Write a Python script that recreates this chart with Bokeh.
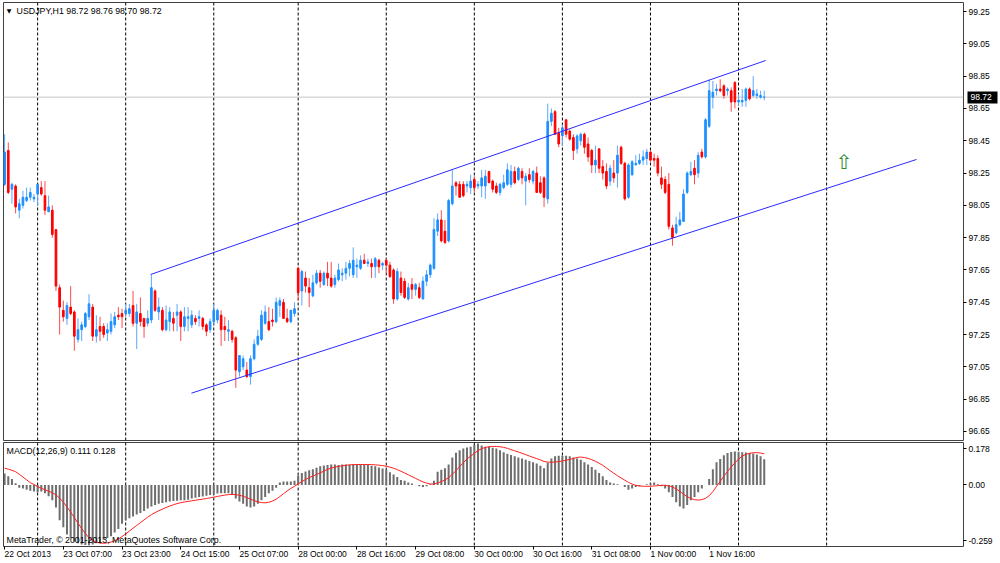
import pandas as pd
from bokeh.plotting import figure
from bokeh.models import (Range1d, FixedTicker, Span, Label, ColumnDataSource,
                          PrintfTickFormatter, LinearAxis)
from bokeh.layouts import column
from bokeh.embed import file_html
from bokeh.resources import INLINE

FONT = "Liberation Sans"
FS = "8.5px"      # scale labels
FS_IN = "8.8px"   # texts inside the panes

# ---------------- data ----------------
symbol_text = "USDJPY,H1  98.72 98.76 98.70 98.72"
macd_text = "MACD(12,26,9) 0.111 0.128"
copyright_text = "MetaTrader, \u00a9 2001-2013, MetaQuotes Software Corp."

opens = [
    98.18, 98.39, 98.15, 98.17, 98.02, 98.05, 98.08, 98.10, 98.09, 98.12,
    98.16, 98.11, 98.01, 98.02, 97.90, 97.54, 97.40, 97.35, 97.42, 97.39,
    97.22, 97.28, 97.30, 97.36, 97.42, 97.24, 97.30, 97.30, 97.26, 97.27,
    97.31, 97.37, 97.38, 97.38, 97.38, 97.43, 97.32, 97.38, 97.35, 97.32,
    97.34, 97.52, 97.39, 97.40, 97.28, 97.33, 97.35, 97.37, 97.39, 97.30,
    97.35, 97.31, 97.35, 97.35, 97.35, 97.31, 97.28, 97.33, 97.34, 97.37,
    97.30, 97.27, 97.27, 97.23, 97.02, 97.05, 97.03, 96.99, 97.10, 97.19,
    97.22, 97.32, 97.33, 97.34, 97.33, 97.43, 97.45, 97.35, 97.33, 97.38,
    97.66, 97.52, 97.60, 97.54, 97.49, 97.57, 97.63, 97.56, 97.63, 97.60,
    97.56, 97.59, 97.62, 97.63, 97.66, 97.62, 97.67, 97.66, 97.71, 97.69,
    97.69, 97.67, 97.71, 97.68, 97.71, 97.68, 97.65, 97.47, 97.60, 97.58,
    97.47, 97.56, 97.53, 97.54, 97.47, 97.58, 97.62, 97.66, 97.89, 97.96,
    97.89, 97.83, 98.06, 98.19, 98.18, 98.18, 98.17, 98.16, 98.21, 98.17,
    98.17, 98.17, 98.26, 98.20, 98.17, 98.13, 98.16, 98.18, 98.18, 98.26,
    98.21, 98.26, 98.20, 98.24, 98.20, 98.25, 98.19, 98.22, 98.09, 98.57,
    98.63, 98.50, 98.48, 98.58, 98.51, 98.47, 98.40, 98.45, 98.49, 98.43,
    98.39, 98.30, 98.40, 98.29, 98.26, 98.20, 98.25, 98.25, 98.41, 98.31,
    98.10, 98.24, 98.30, 98.31, 98.33, 98.34, 98.38, 98.34, 98.34, 98.22,
    98.21, 98.18, 97.91, 97.88, 97.93, 97.95, 98.13, 98.24, 98.28, 98.25,
    98.38, 98.35, 98.54, 98.72, 98.76, 98.77, 98.79, 98.76, 98.76, 98.81,
    98.69, 98.69, 98.70, 98.77, 98.73, 98.73, 98.72, 98.72,
]
highs = [
    98.49, 98.44, 98.19, 98.18, 98.09, 98.14, 98.16, 98.16, 98.12, 98.18,
    98.20, 98.20, 98.11, 98.05, 97.90, 97.56, 97.46, 97.45, 97.55, 97.40,
    97.35, 97.33, 97.39, 97.50, 97.44, 97.37, 97.36, 97.32, 97.32, 97.38,
    97.39, 97.42, 97.41, 97.44, 97.44, 97.52, 97.44, 97.48, 97.35, 97.40,
    97.62, 97.53, 97.48, 97.42, 97.43, 97.42, 97.39, 97.44, 97.40, 97.42,
    97.42, 97.40, 97.37, 97.40, 97.36, 97.32, 97.35, 97.44, 97.41, 97.40,
    97.36, 97.34, 97.28, 97.24, 97.12, 97.12, 97.08, 97.12, 97.22, 97.28,
    97.40, 97.43, 97.42, 97.41, 97.48, 97.48, 97.47, 97.41, 97.40, 97.45,
    97.67, 97.65, 97.64, 97.60, 97.62, 97.65, 97.65, 97.64, 97.70, 97.70,
    97.62, 97.69, 97.66, 97.70, 97.71, 97.79, 97.72, 97.74, 97.75, 97.72,
    97.72, 97.73, 97.72, 97.70, 97.72, 97.70, 97.66, 97.66, 97.64, 97.60,
    97.57, 97.60, 97.57, 97.57, 97.61, 97.65, 97.69, 97.97, 98.00, 98.02,
    97.96, 98.09, 98.27, 98.20, 98.20, 98.20, 98.20, 98.24, 98.23, 98.20,
    98.27, 98.27, 98.26, 98.21, 98.19, 98.19, 98.24, 98.31, 98.30, 98.29,
    98.29, 98.28, 98.25, 98.28, 98.27, 98.29, 98.23, 98.23, 98.68, 98.65,
    98.64, 98.53, 98.55, 98.58, 98.52, 98.49, 98.49, 98.50, 98.50, 98.47,
    98.40, 98.42, 98.40, 98.33, 98.31, 98.30, 98.33, 98.42, 98.42, 98.32,
    98.31, 98.33, 98.36, 98.37, 98.39, 98.40, 98.39, 98.37, 98.36, 98.29,
    98.23, 98.25, 97.93, 97.98, 98.01, 98.15, 98.26, 98.32, 98.33, 98.38,
    98.40, 98.59, 98.83, 98.82, 98.80, 98.83, 98.80, 98.78, 98.78, 98.82,
    98.74, 98.77, 98.78, 98.78, 98.85, 98.77, 98.76, 98.76,
]
lows = [
    98.17, 98.12, 98.06, 98.00, 97.97, 98.03, 98.07, 98.08, 98.07, 98.05,
    98.11, 97.99, 98.01, 97.85, 97.52, 97.25, 97.33, 97.31, 97.37, 97.15,
    97.20, 97.21, 97.29, 97.34, 97.21, 97.20, 97.21, 97.23, 97.21, 97.25,
    97.29, 97.34, 97.29, 97.36, 97.36, 97.30, 97.16, 97.30, 97.23, 97.30,
    97.32, 97.39, 97.34, 97.27, 97.27, 97.27, 97.27, 97.27, 97.21, 97.27,
    97.27, 97.29, 97.31, 97.30, 97.28, 97.24, 97.26, 97.31, 97.32, 97.18,
    97.21, 97.21, 97.20, 96.92, 96.99, 97.03, 96.98, 96.94, 97.09, 97.18,
    97.21, 97.31, 97.27, 97.30, 97.32, 97.36, 97.35, 97.32, 97.32, 97.36,
    97.46, 97.43, 97.51, 97.42, 97.48, 97.56, 97.54, 97.55, 97.55, 97.54,
    97.54, 97.58, 97.58, 97.59, 97.61, 97.60, 97.60, 97.65, 97.69, 97.67,
    97.60, 97.60, 97.63, 97.65, 97.63, 97.60, 97.44, 97.46, 97.49, 97.47,
    97.46, 97.47, 97.49, 97.47, 97.47, 97.55, 97.60, 97.65, 97.86, 97.82,
    97.81, 97.82, 98.05, 98.11, 98.10, 98.10, 98.13, 98.12, 98.13, 98.15,
    98.10, 98.09, 98.19, 98.13, 98.12, 98.11, 98.15, 98.17, 98.16, 98.18,
    98.20, 98.18, 98.05, 98.19, 98.18, 98.13, 98.12, 98.04, 98.06, 98.54,
    98.49, 98.41, 98.42, 98.47, 98.45, 98.33, 98.37, 98.42, 98.37, 98.32,
    98.25, 98.25, 98.25, 98.21, 98.15, 98.17, 98.19, 98.16, 98.30, 98.08,
    98.09, 98.23, 98.30, 98.30, 98.30, 98.30, 98.32, 98.29, 98.23, 98.15,
    98.12, 97.90, 97.80, 97.87, 97.92, 97.95, 98.12, 98.23, 98.18, 98.22,
    98.34, 98.34, 98.53, 98.65, 98.73, 98.75, 98.71, 98.73, 98.63, 98.65,
    98.67, 98.66, 98.66, 98.70, 98.72, 98.71, 98.71, 98.70,
]
closes = [
    98.38, 98.13, 98.18, 98.04, 98.06, 98.10, 98.10, 98.13, 98.10, 98.18,
    98.12, 98.02, 98.04, 97.87, 97.55, 97.42, 97.36, 97.43, 97.38, 97.24,
    97.28, 97.31, 97.38, 97.44, 97.24, 97.28, 97.27, 97.25, 97.28, 97.33,
    97.36, 97.36, 97.36, 97.40, 97.41, 97.32, 97.39, 97.33, 97.30, 97.35,
    97.54, 97.40, 97.42, 97.28, 97.34, 97.39, 97.32, 97.39, 97.30, 97.36,
    97.36, 97.37, 97.33, 97.36, 97.30, 97.27, 97.33, 97.40, 97.40, 97.28,
    97.28, 97.28, 97.22, 97.03, 97.12, 97.10, 96.99, 97.10, 97.19, 97.24,
    97.37, 97.39, 97.28, 97.33, 97.45, 97.46, 97.35, 97.33, 97.40, 97.41,
    97.51, 97.64, 97.55, 97.51, 97.57, 97.63, 97.58, 97.63, 97.60, 97.55,
    97.60, 97.65, 97.63, 97.66, 97.69, 97.71, 97.68, 97.71, 97.69, 97.70,
    97.67, 97.72, 97.67, 97.69, 97.68, 97.61, 97.47, 97.64, 97.51, 97.48,
    97.54, 97.53, 97.56, 97.48, 97.58, 97.62, 97.68, 97.90, 97.96, 97.83,
    97.82, 98.08, 98.17, 98.17, 98.10, 98.11, 98.18, 98.20, 98.16, 98.18,
    98.22, 98.23, 98.19, 98.15, 98.13, 98.18, 98.19, 98.27, 98.26, 98.19,
    98.28, 98.22, 98.23, 98.21, 98.26, 98.13, 98.13, 98.10, 98.57, 98.62,
    98.49, 98.43, 98.53, 98.49, 98.46, 98.39, 98.48, 98.49, 98.41, 98.35,
    98.30, 98.33, 98.28, 98.25, 98.17, 98.28, 98.22, 98.36, 98.31, 98.09,
    98.30, 98.32, 98.31, 98.33, 98.35, 98.38, 98.33, 98.33, 98.25, 98.18,
    98.13, 97.92, 97.85, 97.93, 97.96, 98.12, 98.25, 98.26, 98.24, 98.36,
    98.35, 98.58, 98.76, 98.75, 98.77, 98.76, 98.73, 98.77, 98.69, 98.69,
    98.70, 98.70, 98.77, 98.71, 98.76, 98.74, 98.73, 98.72,
]

# MACD(12,26,9) main line (drawn as histogram)
macd_main = [
    0.049, 0.038, 0.026, 0.008, -0.012, -0.015, -0.020, -0.025, -0.028, -0.031,
    -0.028, -0.035, -0.048, -0.066, -0.097, -0.151, -0.181, -0.212, -0.227, -0.243,
    -0.250, -0.255, -0.258, -0.259, -0.255, -0.250, -0.246, -0.235, -0.227, -0.220,
    -0.204, -0.189, -0.166, -0.151, -0.143, -0.135, -0.127, -0.120, -0.112, -0.101,
    -0.092, -0.086, -0.081, -0.077, -0.074, -0.071, -0.069, -0.068, -0.066, -0.065,
    -0.063, -0.058, -0.055, -0.052, -0.049, -0.046, -0.043, -0.040, -0.037, -0.035,
    -0.035, -0.035, -0.043, -0.058, -0.071, -0.081, -0.092, -0.097, -0.092, -0.081,
    -0.066, -0.051, -0.035, -0.025, -0.012, 0.011, 0.015, 0.015, 0.015, 0.018,
    0.041, 0.052, 0.058, 0.063, 0.068, 0.074, 0.080, 0.084, 0.086, 0.088,
    0.088, 0.086, 0.088, 0.088, 0.088, 0.089, 0.089, 0.088, 0.088, 0.086,
    0.083, 0.080, 0.075, 0.071, 0.065, 0.055, 0.045, 0.034, 0.021, 0.018,
    0.011, 0.006, 0.000, -0.005, -0.009, -0.005, 0.003, 0.018, 0.057, 0.065,
    0.072, 0.088, 0.118, 0.138, 0.149, 0.157, 0.161, 0.164, 0.172, 0.178,
    0.169, 0.164, 0.164, 0.160, 0.157, 0.149, 0.141, 0.134, 0.129, 0.123,
    0.118, 0.114, 0.108, 0.103, 0.098, 0.092, 0.083, 0.072, 0.095, 0.114,
    0.123, 0.126, 0.126, 0.126, 0.123, 0.118, 0.114, 0.108, 0.098, 0.088,
    0.077, 0.065, 0.052, 0.037, 0.021, 0.011, 0.006, 0.003, 0.000, -0.009,
    -0.020, -0.015, -0.009, -0.005, 0.000, 0.003, 0.006, 0.011, 0.003, -0.005,
    -0.015, -0.031, -0.051, -0.074, -0.092, -0.101, -0.086, -0.066, -0.051, -0.031,
    -0.015, 0.000, 0.026, 0.068, 0.098, 0.112, 0.128, 0.137, 0.142, 0.144,
    0.143, 0.141, 0.139, 0.137, 0.135, 0.131, 0.123, 0.111,
]
# signal line for the first 8 bars (its earlier history is off-screen)
signal_head = [0.072, 0.068, 0.063, 0.057, 0.046, 0.034, 0.022, 0.010]

time_tick_bars = [0, 16, 32, 48, 64, 80, 96, 112, 128, 144, 160, 176, 192]
time_tick_labels = ["22 Oct 2013", "23 Oct 07:00", "23 Oct 23:00", "24 Oct 15:00",
                    "25 Oct 07:00", "28 Oct 00:00", "28 Oct 16:00", "29 Oct 08:00",
                    "30 Oct 00:00", "30 Oct 16:00", "31 Oct 08:00", "1 Nov 00:00",
                    "1 Nov 16:00"]
day_start_bars = [9, 33, 57, 80, 104, 128, 152, 176, 200, 224]
price_ticks = [96.65, 96.85, 97.05, 97.25, 97.45, 97.65, 97.85, 98.05,
               98.25, 98.45, 98.65, 98.85, 99.05, 99.25]
macd_tick_labels = ["0.178", "0.00", "-0.259"]
last_price = 98.72

upper_channel_bars = [39.8, 207.4]
upper_channel_prices = [97.622, 98.947]
lower_channel_bars = [50.9, 248.5]
lower_channel_prices = [96.887, 98.334]
arrow_bar, arrow_price = 228.7, 98.318

# ---------------- derived ----------------
bars = list(range(len(closes)))
bull = [c >= o for o, c in zip(opens, closes)]
src = ColumnDataSource(dict(
    x=bars, h=highs, l=lows,
    top=[max(o, c) for o, c in zip(opens, closes)],
    bottom=[min(o, c) for o, c in zip(opens, closes)],
    body=["#1e90ff" if b else "#ff0000" for b in bull],
    wick=["#5aa8ff" if b else "#ff4a4a" for b in bull],
))
signal = pd.Series(macd_main).rolling(9).mean().tolist()
signal[:len(signal_head)] = signal_head

xr = Range1d(-0.3, 261.3)
MACD_TOP, MACD_BOTTOM = 0.1824, -0.264
MACD_FRAME_H = 104


def style_axis(ax):
    ax.axis_line_color = None
    ax.major_tick_line_color = "black"
    ax.major_tick_out = 3
    ax.major_tick_in = 0
    ax.minor_tick_line_color = None
    ax.major_label_text_font = FONT
    ax.major_label_text_font_size = FS
    ax.major_label_text_color = "black"
    ax.major_label_standoff = 2


# ---------------- main price pane ----------------
main = figure(frame_width=960, frame_height=438, x_range=xr,
              y_range=Range1d(96.594, 99.306),
              output_backend="svg", toolbar_location=None,
              x_axis_location=None, y_axis_location="right",
              min_border_left=3, min_border_right=37,
              min_border_top=2, min_border_bottom=1,
              outline_line_color="#404040",
              background_fill_color="white", border_fill_color="white")
main.xgrid.visible = False
main.ygrid.visible = False
ya = main.yaxis[0]
ya.ticker = FixedTicker(ticks=price_ticks)
ya.formatter = PrintfTickFormatter(format="%.2f")
style_axis(ya)

# current-price marker on the price scale: a second axis whose single, wide
# tick reaches back over the first axis and forms the black box
box_axis = LinearAxis(ticker=FixedTicker(ticks=[last_price]),
                      major_label_overrides={last_price: "%.2f" % last_price})
style_axis(box_axis)
box_axis.major_tick_in = 25
box_axis.major_tick_out = 5
box_axis.major_tick_line_width = 12
box_axis.major_label_standoff = -27
box_axis.major_label_text_color = "white"
main.add_layout(box_axis, "right")

for b in day_start_bars:
    main.add_layout(Span(location=b, dimension="height", line_color="black",
                         line_dash="3 2", line_width=1, level="underlay"))
main.add_layout(Span(location=last_price, dimension="width", line_color="#c4c4c4",
                     line_width=1, level="underlay"))

main.segment(x0="x", y0="h", x1="x", y1="l", source=src, line_color="wick", line_width=1)
main.vbar(x="x", width=0.45, top="top", bottom="bottom", source=src,
          fill_color="body", line_color="body", line_width=1)

main.line(upper_channel_bars, upper_channel_prices, line_color="#2a2aff", line_width=1)
main.line(lower_channel_bars, lower_channel_prices, line_color="#2a2aff", line_width=1)

main.add_layout(Label(x=arrow_bar, y=arrow_price, text="\u21e7", text_color="#2a8a2a",
                      text_font="DejaVu Sans", text_font_size="20px",
                      text_align="center", text_baseline="middle"))
main.add_layout(Label(x=0.6, y=99.255, text="\u25bc", text_color="black",
                      text_font="DejaVu Sans", text_font_size="6px",
                      text_align="left", text_baseline="middle"))
main.add_layout(Label(x=3.27, y=99.256, text=symbol_text, text_color="black",
                      text_font=FONT, text_font_size=FS_IN,
                      text_align="left", text_baseline="middle"))

# ---------------- MACD pane ----------------
macd = figure(frame_width=960, frame_height=MACD_FRAME_H, x_range=xr,
              y_range=Range1d(MACD_BOTTOM, MACD_TOP),
              output_backend="svg", toolbar_location=None,
              x_axis_location="below", y_axis_location="right",
              min_border_left=3, min_border_right=37,
              min_border_top=1, min_border_bottom=17,
              outline_line_color="#404040",
              background_fill_color="white", border_fill_color="white")
macd.xgrid.visible = False
macd.ygrid.visible = False
# the terminal prints its scale extremes a few pixels inside the pane
px_val = (MACD_TOP - MACD_BOTTOM) / MACD_FRAME_H
macd_tick_pos = [MACD_TOP - 6 * px_val, 0.0, MACD_BOTTOM + 6 * px_val]
my = macd.yaxis[0]
my.ticker = FixedTicker(ticks=macd_tick_pos)
my.major_label_overrides = dict(zip(macd_tick_pos, macd_tick_labels))
style_axis(my)
mx = macd.xaxis[0]
mx.ticker = FixedTicker(ticks=time_tick_bars)
mx.major_label_overrides = dict(zip(time_tick_bars, time_tick_labels))
style_axis(mx)
mx.major_label_orientation = -0.0001   # keeps labels horizontal, left-aligned at the tick
mx.major_label_standoff = 4

for b in day_start_bars:
    macd.add_layout(Span(location=b, dimension="height", line_color="black",
                         line_dash="3 2", line_width=1, level="underlay"))

macd.vbar(x=bars, top=macd_main, bottom=0, width=0.55, fill_color="#6e6e6e", line_color=None)
macd.line(bars, signal, line_color="#ff2020", line_width=1)

macd.add_layout(Label(x=0.55, y=0.148, text=macd_text, text_color="black",
                      text_font=FONT, text_font_size=FS_IN,
                      text_align="left", text_baseline="middle"))
macd.add_layout(Label(x=0.55, y=-0.238, text=copyright_text, text_color="black",
                      text_font=FONT, text_font_size=FS_IN,
                      text_align="left", text_baseline="middle"))

layout = column(main, macd)
open("out.html", "w").write(file_html(layout, INLINE))
